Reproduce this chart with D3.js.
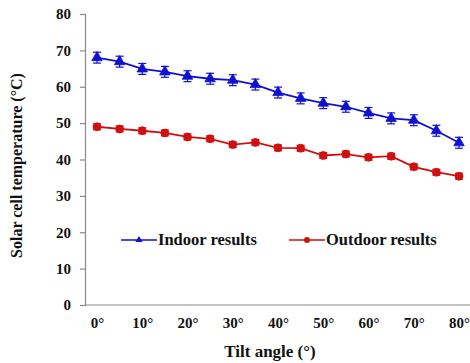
<!DOCTYPE html>
<html>
<head>
<meta charset="utf-8">
<script src="https://cdn.jsdelivr.net/npm/d3@7"></script>
<style>
  html, body { margin: 0; padding: 0; background: #fff; }
  svg text { font-family: "Liberation Serif", "Times New Roman", serif; font-weight: bold; fill: #111; }
</style>
</head>
<body>
<svg id="chart" width="470" height="363"></svg>
<script>
// Tilt angles (degrees) and measured cell temperatures (°C)
const angles = [0, 5, 10, 15, 20, 25, 30, 35, 40, 45, 50, 55, 60, 65, 70, 75, 80];
const indoor = [68.0, 66.9, 64.9, 64.1, 62.9, 62.2, 61.8, 60.6, 58.4, 56.8, 55.5, 54.5, 52.8, 51.3, 50.8, 47.9, 44.6];
const indoorErr = [1.5, 1.5, 1.5, 1.5, 1.5, 1.5, 1.5, 1.5, 1.5, 1.5, 1.5, 1.5, 1.5, 1.5, 1.5, 1.5, 1.5];
const outdoor = [49.0, 48.4, 47.9, 47.3, 46.2, 45.7, 44.1, 44.7, 43.2, 43.1, 41.1, 41.5, 40.6, 40.9, 38.0, 36.5, 35.4];
const outdoorErr = [0.8, 0.8, 0.8, 0.8, 0.8, 0.8, 0.8, 0.8, 0.8, 0.8, 0.8, 0.8, 0.8, 0.8, 0.8, 0.8, 0.8];
const xTicks = [0, 10, 20, 30, 40, 50, 60, 70, 80];
const yTicks = [0, 10, 20, 30, 40, 50, 60, 70, 80];

const svg = d3.select("#chart");
const axisColor = "#8a8a8a";
const blue = "#1010d0";
const red = "#d01010";

const x = d3.scaleLinear().domain([0, 80]).range([97, 459]);
const y = d3.scaleLinear().domain([0, 80]).range([305, 14]);
const axisLeftX = 85;

// y axis
const yAxis = svg.append("g")
  .attr("transform", `translate(${axisLeftX},0)`)
  .call(d3.axisLeft(y).tickValues(yTicks).tickSize(5).tickPadding(9).tickFormat(d3.format("d")));
yAxis.select(".domain").attr("stroke", axisColor).attr("stroke-width", 1.2);
yAxis.selectAll(".tick line").attr("stroke", axisColor).attr("stroke-width", 1.2);
yAxis.selectAll(".tick text").style("font-size", "15px").attr("fill", "#111");

// x axis (baseline only, labels under it)
svg.append("line")
  .attr("x1", axisLeftX).attr("x2", 470)
  .attr("y1", y(0)).attr("y2", y(0))
  .attr("stroke", axisColor).attr("stroke-width", 1.2);
const xAxis = svg.append("g")
  .attr("transform", `translate(0,${y(0)})`)
  .call(d3.axisBottom(x).tickValues(xTicks).tickSize(0).tickPadding(12).tickFormat(d => d + "°"));
xAxis.select(".domain").remove();
xAxis.selectAll(".tick text").style("font-size", "15px").attr("fill", "#111");

// axis titles
svg.append("text")
  .attr("transform", `translate(22,${(y(0) + y(80)) / 2 + 6}) rotate(-90)`)
  .attr("text-anchor", "middle")
  .style("font-size", "16px")
  .text("Solar cell temperature (°C)");
svg.append("text")
  .attr("x", 270).attr("y", 357)
  .attr("text-anchor", "middle")
  .style("font-size", "17px")
  .text("Tilt angle (°)");

const line = d3.line().x((d, i) => x(angles[i])).y(d => y(d));

function drawSeries(values, errs, color, marker) {
  const g = svg.append("g");
  // error bars
  values.forEach((v, i) => {
    const cx = x(angles[i]);
    const e = errs[i];
    g.append("line").attr("x1", cx).attr("x2", cx).attr("y1", y(v + e)).attr("y2", y(v - e))
      .attr("stroke", color).attr("stroke-width", 1.2);
    [v + e, v - e].forEach(t => {
      g.append("line").attr("x1", cx - 4).attr("x2", cx + 4).attr("y1", y(t)).attr("y2", y(t))
        .attr("stroke", color).attr("stroke-width", 1.2);
    });
  });
  g.append("path").datum(values).attr("d", line)
    .attr("fill", "none").attr("stroke", color).attr("stroke-width", 1.8);
  const sym = d3.symbol().type(marker).size(marker === d3.symbolTriangle ? 48 : 50);
  g.selectAll("path.m").data(values).enter().append("path")
    .attr("class", "m")
    .attr("d", sym)
    .attr("transform", (d, i) => `translate(${x(angles[i])},${y(d)})`)
    .attr("fill", color).attr("stroke", color).attr("stroke-width", 0.8);
}

drawSeries(indoor, indoorErr, blue, d3.symbolTriangle);
drawSeries(outdoor, outdoorErr, red, d3.symbolCircle);

// legend
const legend = [
  { label: "Indoor results", color: blue, marker: d3.symbolTriangle, x0: 121 },
  { label: "Outdoor results", color: red, marker: d3.symbolCircle, x0: 289 }
];
legend.forEach(l => {
  const ly = 240;
  svg.append("line").attr("x1", l.x0).attr("x2", l.x0 + 36).attr("y1", ly).attr("y2", ly)
    .attr("stroke", l.color).attr("stroke-width", 1.5);
  svg.append("path").attr("d", d3.symbol().type(l.marker).size(l.marker === d3.symbolTriangle ? 22 : 28))
    .attr("transform", `translate(${l.x0 + 18},${ly})`).attr("fill", l.color);
  svg.append("text").attr("x", l.x0 + 37).attr("y", ly + 5)
    .style("font-size", "16.5px").text(l.label);
});
</script>
</body>
</html>
